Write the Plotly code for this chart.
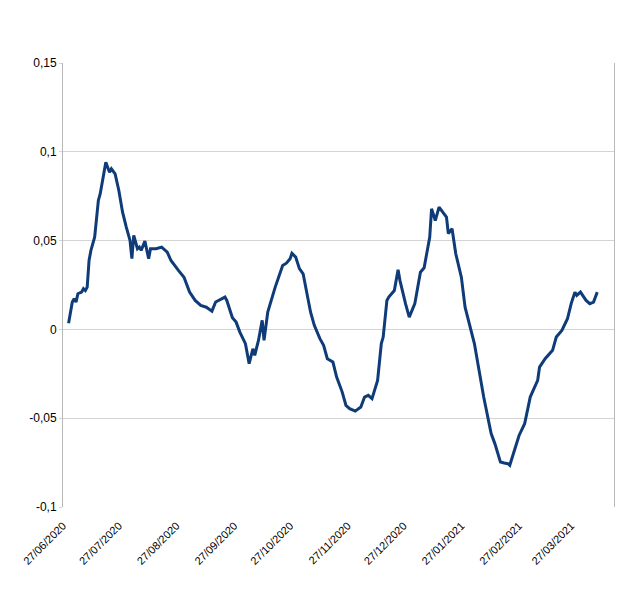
import plotly.graph_objects as go

# ---- data ----
dates = [
    "2020-06-30", "2020-07-01", "2020-07-02", "2020-07-03", "2020-07-04", "2020-07-05",
    "2020-07-07", "2020-07-08", "2020-07-09", "2020-07-10", "2020-07-11", "2020-07-12",
    "2020-07-14", "2020-07-16", "2020-07-17", "2020-07-20", "2020-07-22", "2020-07-23",
    "2020-07-25", "2020-07-27", "2020-07-29", "2020-07-31", "2020-08-02", "2020-08-03",
    "2020-08-04", "2020-08-06", "2020-08-07", "2020-08-08", "2020-08-10", "2020-08-12",
    "2020-08-13", "2020-08-16", "2020-08-19", "2020-08-22", "2020-08-23", "2020-08-24",
    "2020-08-28", "2020-08-31", "2020-09-03", "2020-09-06", "2020-09-09", "2020-09-12",
    "2020-09-15", "2020-09-17", "2020-09-22", "2020-09-23", "2020-09-26", "2020-09-28",
    "2020-09-30", "2020-10-03", "2020-10-05", "2020-10-07", "2020-10-08", "2020-10-10",
    "2020-10-12", "2020-10-13", "2020-10-15", "2020-10-19", "2020-10-23", "2020-10-25",
    "2020-10-27", "2020-10-28", "2020-10-30", "2020-11-01", "2020-11-03", "2020-11-05",
    "2020-11-07", "2020-11-09", "2020-11-12", "2020-11-14", "2020-11-16", "2020-11-19",
    "2020-11-21", "2020-11-24", "2020-11-26", "2020-11-28", "2020-12-01", "2020-12-04",
    "2020-12-06", "2020-12-08", "2020-12-10", "2020-12-13", "2020-12-15", "2020-12-16",
    "2020-12-18", "2020-12-19", "2020-12-22", "2020-12-24", "2020-12-25", "2020-12-28",
    "2020-12-30", "2021-01-02", "2021-01-05", "2021-01-07", "2021-01-10", "2021-01-11",
    "2021-01-13", "2021-01-15", "2021-01-19", "2021-01-20", "2021-01-22", "2021-01-24",
    "2021-01-27", "2021-01-29", "2021-02-01", "2021-02-03", "2021-02-08", "2021-02-12",
    "2021-02-14", "2021-02-17", "2021-02-19", "2021-02-21", "2021-02-22", "2021-02-24",
    "2021-02-27", "2021-03-02", "2021-03-05", "2021-03-07", "2021-03-09", "2021-03-10",
    "2021-03-13", "2021-03-17", "2021-03-19", "2021-03-22", "2021-03-25", "2021-03-27",
    "2021-03-29", "2021-03-30", "2021-04-01", "2021-04-04", "2021-04-06", "2021-04-08",
    "2021-04-10",
]

values = [
    0.0035, 0.0088, 0.0154, 0.0173, 0.0154, 0.0201,
    0.0210, 0.0229, 0.0219, 0.0238, 0.0388, 0.0445,
    0.0519, 0.0726, 0.0764, 0.0941, 0.0885, 0.0904,
    0.0876, 0.0782, 0.0660, 0.0576, 0.0501, 0.0398,
    0.0529, 0.0454, 0.0463, 0.0445, 0.0497, 0.0398,
    0.0454, 0.0454, 0.0463, 0.0435, 0.0407, 0.0388,
    0.0332, 0.0294, 0.0210, 0.0163, 0.0135, 0.0125,
    0.0103, 0.0154, 0.0182, 0.0163, 0.0066, 0.0041,
    -0.0015, -0.0080, -0.0193, -0.0109, -0.0146, -0.0062,
    0.0051, -0.0062, 0.0097, 0.0238, 0.0360, 0.0373,
    0.0398, 0.0429, 0.0407, 0.0342, 0.0313, 0.0201,
    0.0097, 0.0023, -0.0052, -0.0090, -0.0165, -0.0184,
    -0.0268, -0.0353, -0.0428, -0.0446, -0.0460, -0.0437,
    -0.0381, -0.0371, -0.0390, -0.0287, -0.0080, -0.0043,
    0.0163, 0.0182, 0.0219, 0.0336, 0.0276, 0.0145,
    0.0069, 0.0145, 0.0322, 0.0347, 0.0519, 0.0679,
    0.0613, 0.0688, 0.0632, 0.0539, 0.0567, 0.0426,
    0.0294, 0.0125, -0.0006, -0.0080, -0.0381, -0.0587,
    -0.0643, -0.0747, -0.0752, -0.0756, -0.0765, -0.0700,
    -0.0597, -0.0531, -0.0381, -0.0334, -0.0287, -0.0212,
    -0.0165, -0.0118, -0.0043, -0.0006, 0.0060, 0.0145,
    0.0210, 0.0191, 0.0210, 0.0163, 0.0145, 0.0154,
    0.0210,
]

x_tick_dates = [
    "2020-06-27", "2020-07-27", "2020-08-27", "2020-09-27", "2020-10-27",
    "2020-11-27", "2020-12-27", "2021-01-27", "2021-02-27", "2021-03-27",
]
x_tick_labels = [
    "27/06/2020", "27/07/2020", "27/08/2020", "27/09/2020", "27/10/2020",
    "27/11/2020", "27/12/2020", "27/01/2021", "27/02/2021", "27/03/2021",
]
y_tick_values = [-0.1, -0.05, 0, 0.05, 0.1, 0.15]
y_tick_labels = ["-0,1", "-0,05", "0", "0,05", "0,1", "0,15"]

x_range = ["2020-06-27", "2021-04-19"]
y_range = [-0.1, 0.15]

# ---- figure ----
grid = "#d4d4d4"
axis = "#b8b8b8"

fig = go.Figure()
fig.add_trace(go.Scatter(
    x=dates, y=values, mode="lines",
    line=dict(color="#0f3c78", width=3),
    showlegend=False, hoverinfo="x+y",
))

zero_pos = (0 - y_range[0]) / (y_range[1] - y_range[0])

fig.update_layout(
    width=640, height=604,
    margin=dict(l=63, r=26, t=63, b=97),
    paper_bgcolor="white", plot_bgcolor="white",
    font=dict(family="Liberation Sans, Arial, sans-serif", size=12, color="black"),
    xaxis=dict(
        type="date", range=x_range,
        tickmode="array", tickvals=x_tick_dates, ticktext=x_tick_labels,
        tickangle=-45, tickfont=dict(size=11),
        showgrid=False, showline=False, zeroline=False,
        ticks="outside", ticklen=7, tickcolor="rgba(0,0,0,0)",
    ),
    xaxis2=dict(
        type="date", range=x_range, overlaying="x", anchor="free",
        position=zero_pos, side="bottom",
        tickmode="array", tickvals=x_tick_dates[1:],
        showticklabels=False, showgrid=False, showline=False, zeroline=False,
        ticks="outside", ticklen=5, tickcolor=axis, tickwidth=1,
    ),
    yaxis=dict(
        range=y_range, tickmode="array",
        tickvals=y_tick_values, ticktext=y_tick_labels,
        showgrid=True, gridcolor=grid, gridwidth=1,
        zeroline=False,
        showline=True, linecolor=axis, linewidth=1, mirror=True,
        ticks="outside", ticklen=3, tickcolor=grid,
        tickfont=dict(size=12),
    ),
)

fig.write_html(
    "out.html",
    config={"displayModeBar": False},
    post_script="document.body.style.margin='0';document.body.style.overflow='hidden';",
)
